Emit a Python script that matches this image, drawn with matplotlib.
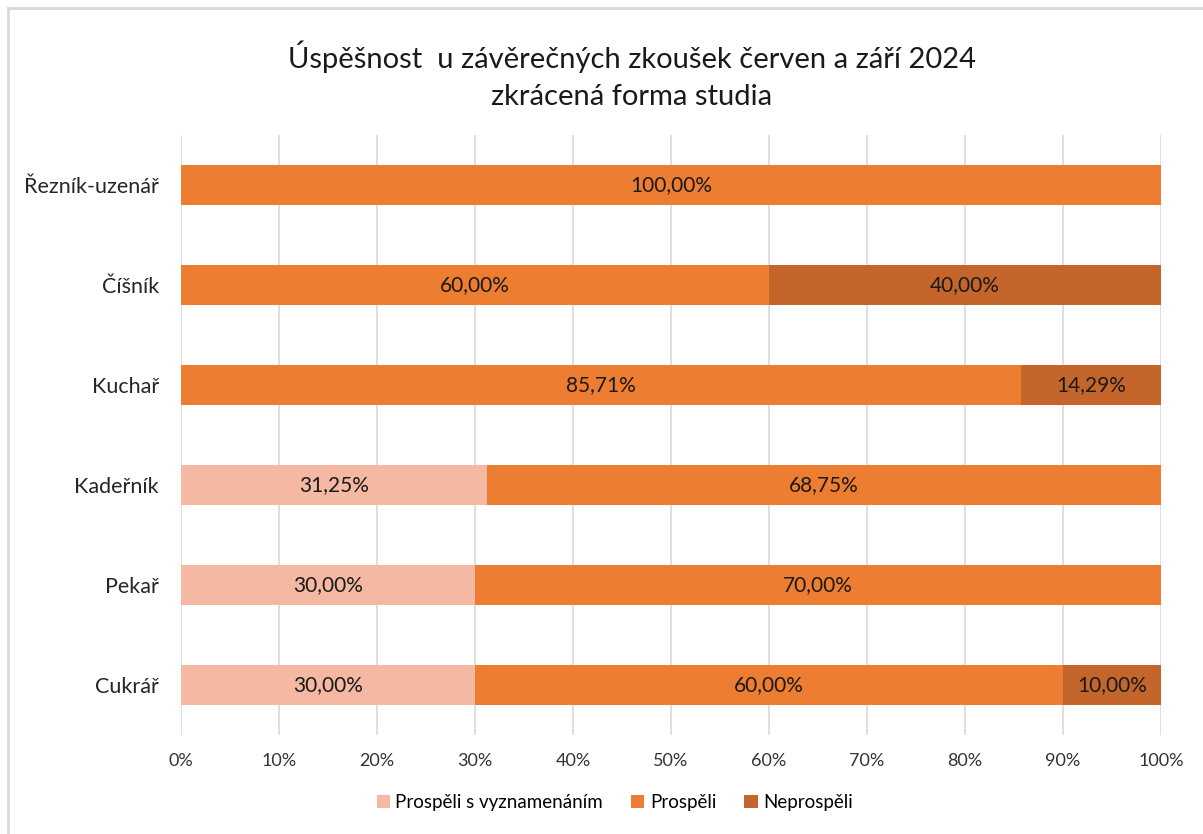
import matplotlib.pyplot as plt
from matplotlib.lines import Line2D
import numpy as np

plt.rcParams['font.family'] = ['Lato', 'DejaVu Sans']

# data (bottom to top)
categories = ['Cukrář', 'Pekař', 'Kadeřník', 'Kuchař', 'Číšník', 'Řezník-uzenář']
vyznamenani = [30.00, 30.00, 31.25, 0, 0, 0]
prospeli = [60.00, 70.00, 68.75, 85.71, 60.00, 100.00]
neprospeli = [10.00, 0, 0, 14.29, 40.00, 0]
series = [('Prospěli s vyznamenáním', vyznamenani, '#F4B8A3'),
          ('Prospěli', prospeli, '#ED7D31'),
          ('Neprospěli', neprospeli, '#C4662B')]
xticks = [0, 10, 20, 30, 40, 50, 60, 70, 80, 90, 100]

fig = plt.figure(figsize=(12.03, 8.34), dpi=100)
ax = fig.add_axes([0.1505, 0.1187, 0.8146, 0.7194])

y = np.arange(len(categories))
left = np.zeros(len(categories))
for name, vals, col in series:
    vals = np.array(vals)
    ax.barh(y, vals, left=left, height=0.4, color=col, label=name, zorder=3)
    for i, v in enumerate(vals):
        if v > 0:
            ax.text(left[i] + v / 2, y[i], ('%.2f%%' % v).replace('.', ','),
                    ha='center', va='center', fontsize=15, color='#1a1a1a', zorder=4)
    left = left + vals

ax.set_xlim(0, 100)
ax.set_ylim(-0.5, len(categories) - 0.5)
ax.set_xticks(xticks)
ax.set_xticklabels(['%d%%' % t for t in xticks], fontsize=13, color='#333333')
ax.set_yticks(y)
ax.set_yticklabels(categories, fontsize=15.5, color='#262626')
ax.tick_params(axis='both', length=0)
ax.tick_params(axis='x', pad=13)
ax.tick_params(axis='y', pad=16)
ax.grid(axis='x', color='#D9D9D9', linewidth=1.2, zorder=0)
for s in ax.spines.values():
    s.set_visible(False)

fig.text(0.525, 0.932, 'Úspěšnost  u závěrečných zkoušek červen a září 2024',
         ha='center', va='center', fontsize=21, color='#1a1a1a')
fig.text(0.525, 0.884, 'zkrácená forma studia',
         ha='center', va='center', fontsize=21, color='#1a1a1a')

fig.legend(loc='center', bbox_to_anchor=(0.511, 0.038), ncol=3, frameon=False,
           fontsize=13.5, handlelength=0.7, handleheight=0.7, handletextpad=0.3,
           columnspacing=1.5)

# chart border
fig.add_artist(Line2D([8 / 1203, 8 / 1203], [0, 1 - 8 / 834], transform=fig.transFigure,
                      color='#D9D9D9', linewidth=2))
fig.add_artist(Line2D([8 / 1203, 1], [1 - 8 / 834, 1 - 8 / 834], transform=fig.transFigure,
                      color='#D9D9D9', linewidth=2))

fig.savefig('out.png', dpi=100)
